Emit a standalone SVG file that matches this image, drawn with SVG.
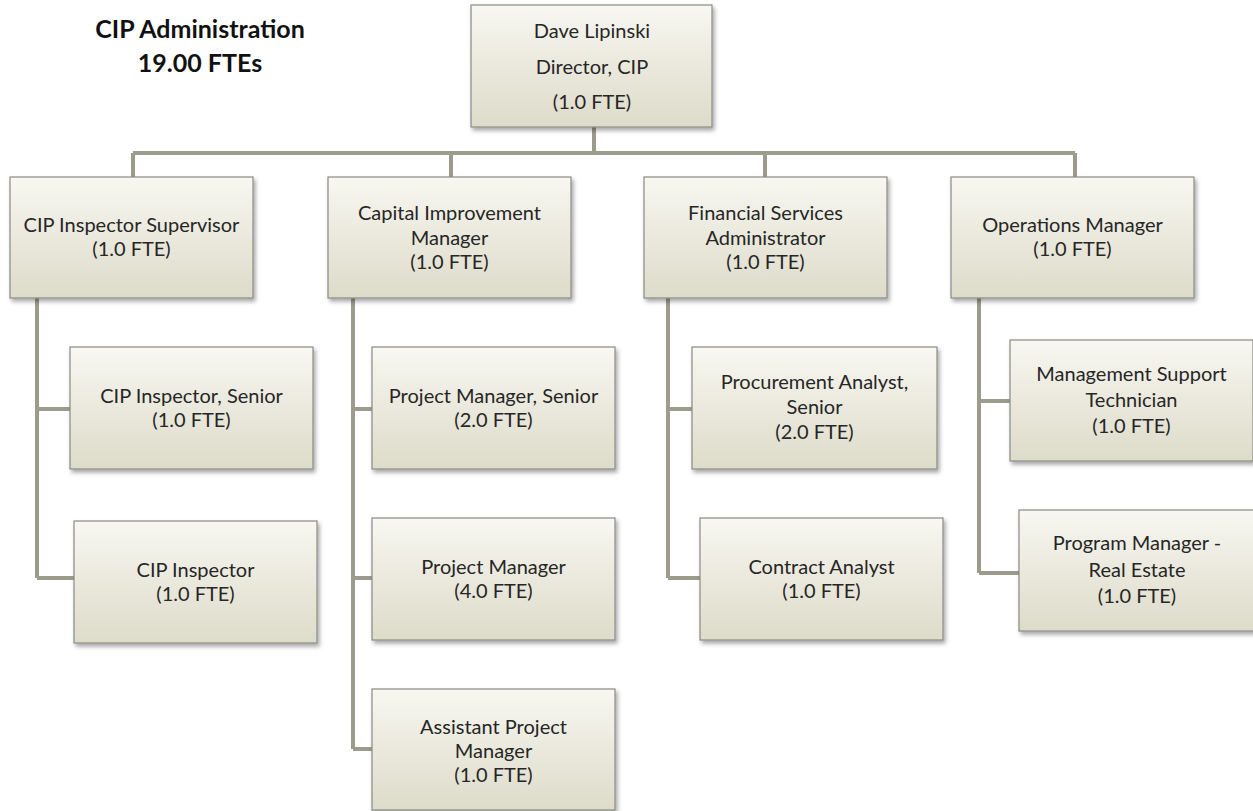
<svg xmlns="http://www.w3.org/2000/svg" width="1253" height="811" viewBox="0 0 1253 811">
<defs>
<linearGradient id="g" x1="0" y1="0" x2="0" y2="1">
<stop offset="0" stop-color="#f8f7f1"/>
<stop offset="1" stop-color="#dddbc9"/>
</linearGradient>
<filter id="sh" x="-10%" y="-10%" width="125%" height="130%">
<feDropShadow dx="2" dy="3" stdDeviation="2" flood-color="#000" flood-opacity="0.35"/>
</filter>
</defs>
<style>
.box{fill:url(#g);stroke:#8a8a84;stroke-width:1.2;filter:url(#sh)}
.t{font-family:Lato,"Liberation Sans",sans-serif;font-size:20px;fill:#262626;text-anchor:middle}
.title{font-family:Lato,"Liberation Sans",sans-serif;font-size:25px;font-weight:bold;fill:#111;text-anchor:middle}
.c{fill:none;stroke:#9c9c8c;stroke-width:4}
</style>
<rect width="1253" height="811" fill="#ffffff"/>
<g id="title">
<text class="title" x="200" y="38">CIP Administration</text>
<text class="title" x="200" y="72">19.00 FTEs</text>
</g>
<g id="connectors">
<path class="c" d="M594,127 V153 M133,153 H1075 M133,153 V177 M451,153 V177 M765,153 V177 M1075,153 V177"/>
<path class="c" d="M37,298 V578 M37,409 H70 M37,578 H74"/>
<path class="c" d="M353,298 V749 M353,409 H372 M353,578 H372 M353,749 H372"/>
<path class="c" d="M668,298 V578 M668,409 H692 M668,578 H700"/>
<path class="c" d="M979,298 V573 M979,401 H1010 M979,573 H1019"/>
</g>
<g id="director">
<rect class="box" x="471" y="5" width="241" height="122"/>
<text class="t" x="592" y="38">Dave Lipinski</text>
<text class="t" x="592" y="74">Director, CIP</text>
<text class="t" x="592" y="109">(1.0 FTE)</text>
</g>
<g id="inspector-supervisor">
<rect class="box" x="10" y="177" width="243" height="121"/>
<text class="t" x="131.5" y="232">CIP Inspector Supervisor</text>
<text class="t" x="131.5" y="256">(1.0 FTE)</text>
</g>
<g id="capital-improvement-manager">
<rect class="box" x="328" y="177" width="243" height="121"/>
<text class="t" x="449.5" y="220">Capital Improvement</text>
<text class="t" x="449.5" y="245">Manager</text>
<text class="t" x="449.5" y="269">(1.0 FTE)</text>
</g>
<g id="financial-services-administrator">
<rect class="box" x="644" y="177" width="243" height="121"/>
<text class="t" x="765.5" y="220">Financial Services</text>
<text class="t" x="765.5" y="245">Administrator</text>
<text class="t" x="765.5" y="269">(1.0 FTE)</text>
</g>
<g id="operations-manager">
<rect class="box" x="951" y="177" width="243" height="121"/>
<text class="t" x="1072.5" y="232">Operations Manager</text>
<text class="t" x="1072.5" y="256">(1.0 FTE)</text>
</g>
<g id="cip-inspector-senior">
<rect class="box" x="70" y="347" width="243" height="122"/>
<text class="t" x="191.5" y="403">CIP Inspector, Senior</text>
<text class="t" x="191.5" y="427">(1.0 FTE)</text>
</g>
<g id="cip-inspector">
<rect class="box" x="74" y="521" width="243" height="122"/>
<text class="t" x="195.5" y="577">CIP Inspector</text>
<text class="t" x="195.5" y="601">(1.0 FTE)</text>
</g>
<g id="project-manager-senior">
<rect class="box" x="372" y="347" width="243" height="122"/>
<text class="t" x="493.5" y="403">Project Manager, Senior</text>
<text class="t" x="493.5" y="427">(2.0 FTE)</text>
</g>
<g id="project-manager">
<rect class="box" x="372" y="518" width="243" height="122"/>
<text class="t" x="493.5" y="574">Project Manager</text>
<text class="t" x="493.5" y="598">(4.0 FTE)</text>
</g>
<g id="assistant-project-manager">
<rect class="box" x="372" y="689" width="243" height="121"/>
<text class="t" x="493.5" y="734">Assistant Project</text>
<text class="t" x="493.5" y="758">Manager</text>
<text class="t" x="493.5" y="782">(1.0 FTE)</text>
</g>
<g id="procurement-analyst-senior">
<rect class="box" x="692" y="347" width="245" height="122"/>
<text class="t" x="814.5" y="389">Procurement Analyst,</text>
<text class="t" x="814.5" y="414">Senior</text>
<text class="t" x="814.5" y="439">(2.0 FTE)</text>
</g>
<g id="contract-analyst">
<rect class="box" x="700" y="518" width="243" height="122"/>
<text class="t" x="821.5" y="574">Contract Analyst</text>
<text class="t" x="821.5" y="598">(1.0 FTE)</text>
</g>
<g id="management-support-technician">
<rect class="box" x="1010" y="340" width="243" height="121"/>
<text class="t" x="1131.5" y="381">Management Support</text>
<text class="t" x="1131.5" y="407">Technician</text>
<text class="t" x="1131.5" y="433">(1.0 FTE)</text>
</g>
<g id="program-manager-real-estate">
<rect class="box" x="1019" y="510" width="236" height="121"/>
<text class="t" x="1137" y="550">Program Manager -</text>
<text class="t" x="1137" y="577">Real Estate</text>
<text class="t" x="1137" y="603">(1.0 FTE)</text>
</g>
</svg>
